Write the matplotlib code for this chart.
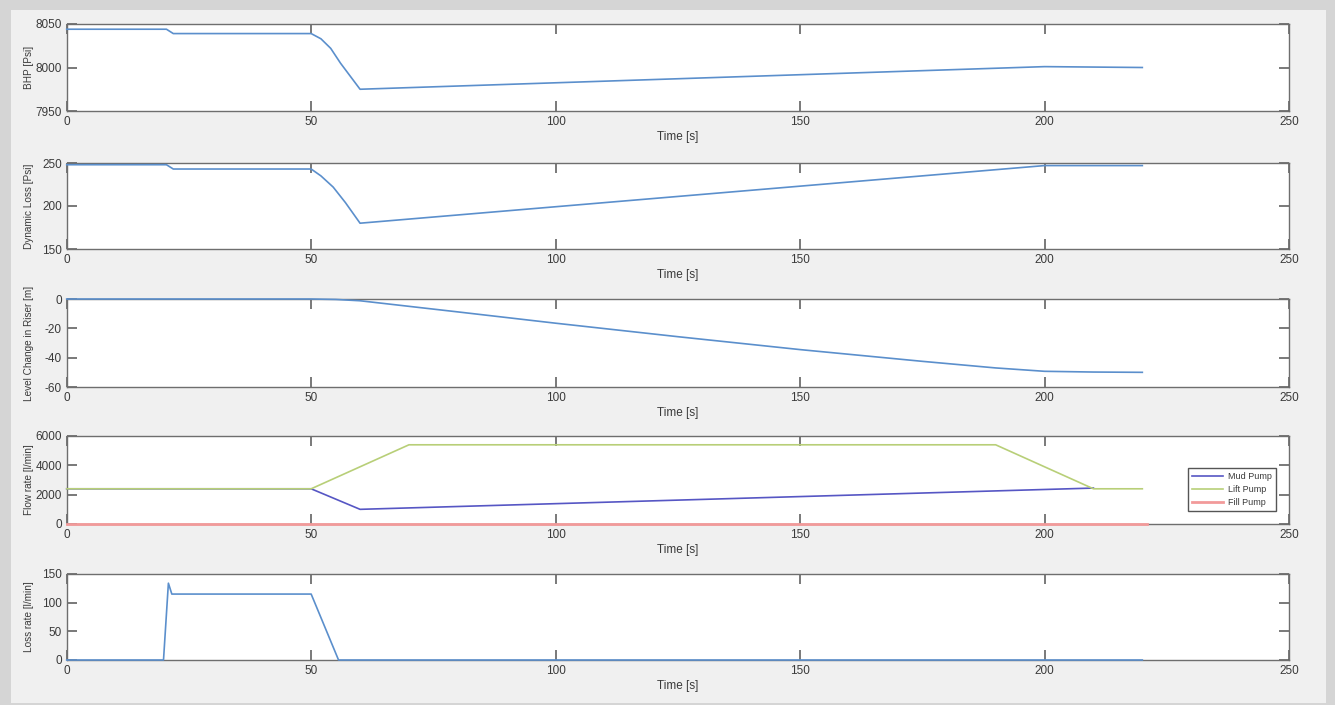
import matplotlib.pyplot as plt
from matplotlib.patches import Rectangle

plt.rcParams['axes.unicode_minus'] = False
plt.rcParams['font.family'] = ['Liberation Sans', 'DejaVu Sans']

# time / value pairs
bhp_t = [0, 20.4, 21.8, 50, 52, 54, 56, 58, 60, 200, 220]
bhp_v = [8044, 8044, 8039, 8039, 8033, 8022, 8005, 7990, 7975, 8001, 8000]

dyn_t = [0, 20.4, 21.8, 50, 52, 54.5, 57, 60, 200, 220]
dyn_v = [248, 248, 243, 243, 235, 222, 204, 180, 247, 247]

lvl_t = [0, 50, 55, 60, 70, 80, 100, 125, 150, 175, 190, 200, 210, 220]
lvl_v = [0, 0, -0.3, -1.2, -5, -8.8, -16.5, -25.7, -34.5, -42.5, -47, -49.3, -49.8, -50]

mud_t = [0, 50, 60, 210]
mud_v = [2400, 2400, 1000, 2450]
lift_t = [0, 50, 70, 190, 210, 220]
lift_v = [2400, 2400, 5400, 5400, 2400, 2400]
fill_t = [0, 221]
fill_v = [0, 0]

loss_t = [0, 19.8, 20.8, 21.5, 50, 55.6, 220]
loss_v = [0, 0, 134, 115, 115, 0, 0]

xticks = [0, 50, 100, 150, 200, 250]

line_c = '#5b8fcc'
txt_c = '#3a3a3a'

fig = plt.figure(figsize=(13.35, 7.05), dpi=100)
fig.patch.set_facecolor('#d5d5d5')
bg = Rectangle((11 / 1335, 2 / 705), (1326 - 11) / 1335, (695 - 2) / 705,
               transform=fig.transFigure, facecolor='#f0f0f0',
               edgecolor='none', zorder=-10)
fig.add_artist(bg)

W, H = 1335.0, 705.0
left, right = 66.7, 1289.0
rows = [(24, 111), (163, 249), (299, 387), (436, 524), (574, 660)]


def panel(i, ylabel, ylim, yticks):
    top, bot = rows[i]
    ax = fig.add_axes([left / W, 1 - bot / H, (right - left) / W, (bot - top) / H])
    ax.set_facecolor('white')
    ax.set_xlim(0, 250)
    ax.set_ylim(*ylim)
    ax.set_xticks(xticks)
    ax.set_yticks(yticks)
    ax.tick_params(direction='in', top=True, right=True, length=7, width=1.1,
                   color='#555555', labelsize=8.5, labelcolor=txt_c, pad=3.5)
    for s in ax.spines.values():
        s.set_color('#6e6e6e')
        s.set_linewidth(1)
    ax.set_xlabel('Time [s]', fontsize=8.5, color=txt_c, labelpad=2)
    ax.set_ylabel(ylabel, fontsize=7.2, color=txt_c)
    ax.yaxis.set_label_coords(-0.027, 0.5)
    return ax


def curve(ax, t, v, c, lw=1.2, label=None):
    ax.plot(t, v, color=c, lw=lw, label=label, zorder=3, clip_on=False)


ax = panel(0, 'BHP [Psi]', (7950, 8050), [7950, 8000, 8050])
curve(ax, bhp_t, bhp_v, line_c)

ax = panel(1, 'Dynamic Loss [Psi]', (150, 250), [150, 200, 250])
curve(ax, dyn_t, dyn_v, line_c)

ax = panel(2, 'Level Change in Riser [m]', (-60, 0), [-60, -40, -20, 0])
curve(ax, lvl_t, lvl_v, line_c)

ax = panel(3, 'Flow rate [l/min]', (0, 6000), [0, 2000, 4000, 6000])
curve(ax, mud_t, mud_v, '#5656c4', label='Mud Pump')
curve(ax, lift_t, lift_v, '#b8cf78', label='Lift Pump')
curve(ax, fill_t, fill_v, '#f29a9a', lw=2.0, label='Fill Pump')
leg = ax.legend(loc='center right', bbox_to_anchor=(0.993, 0.39), fontsize=6.5,
                frameon=True, fancybox=False, handlelength=3.4, borderpad=0.45,
                labelspacing=0.45, handletextpad=0.6, framealpha=1)
leg.get_frame().set_edgecolor('#555555')
leg.get_frame().set_linewidth(1)
for t in leg.get_texts():
    t.set_color(txt_c)

ax = panel(4, 'Loss rate [l/min]', (0, 150), [0, 50, 100, 150])
curve(ax, loss_t, loss_v, line_c)

fig.savefig('out.png', dpi=100, facecolor=fig.get_facecolor())
